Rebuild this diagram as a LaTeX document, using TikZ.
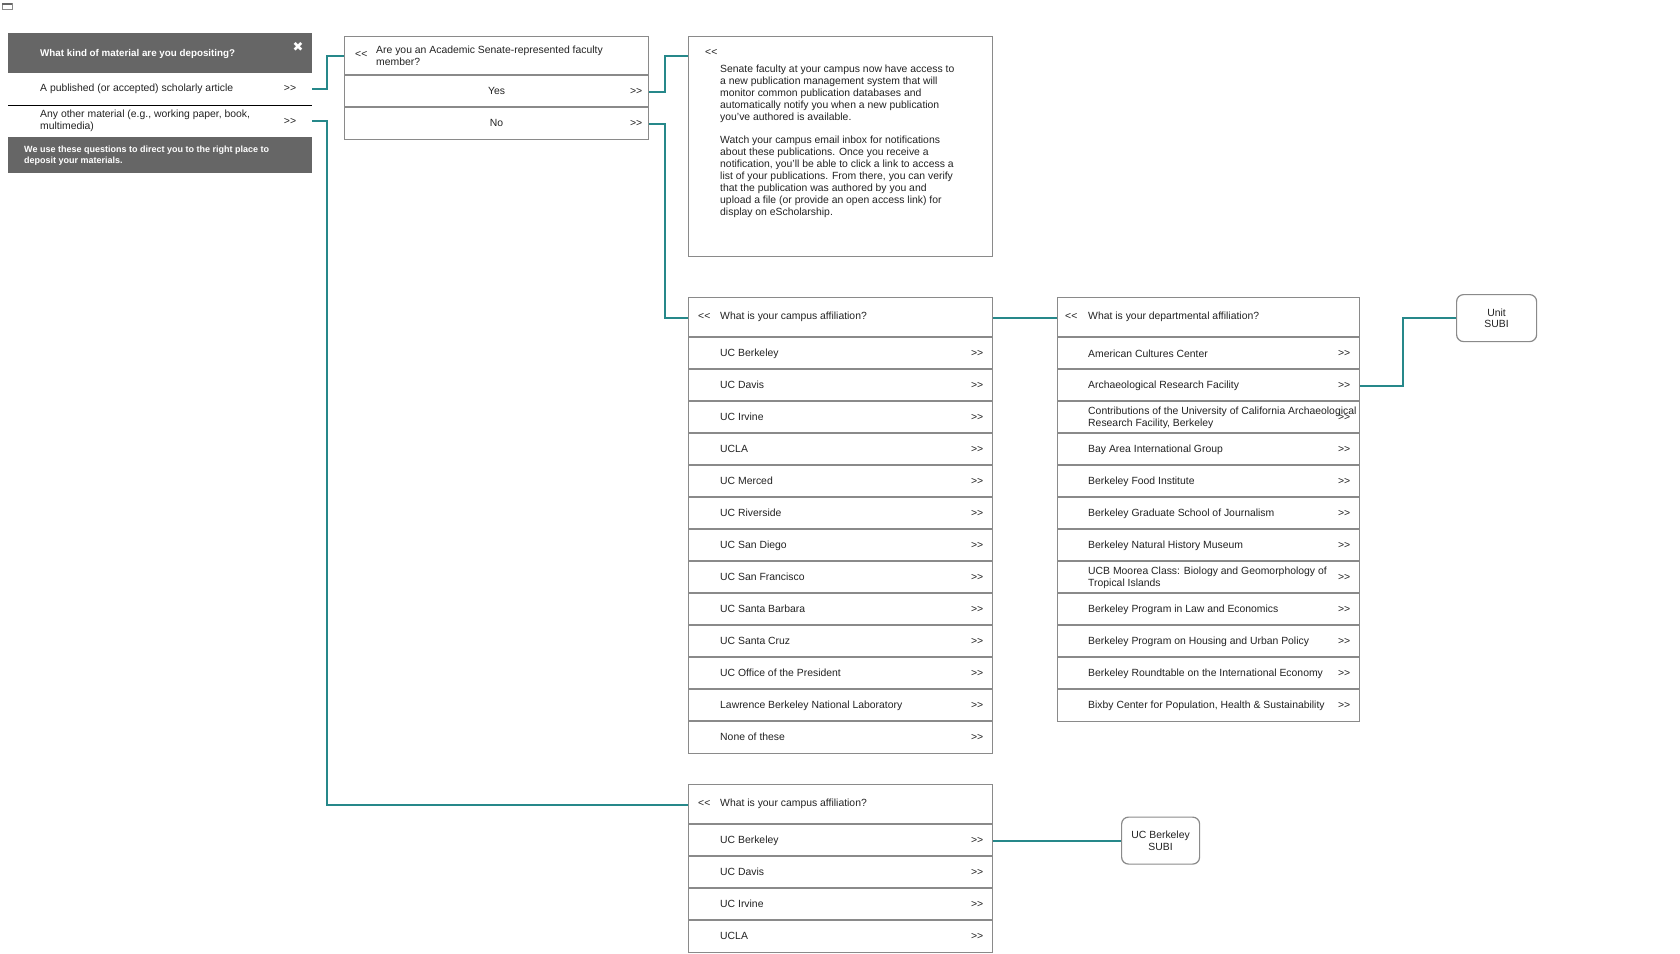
\documentclass[tikz,border=0pt]{standalone}
\usepackage{fontspec}
\setmainfont{Liberation Sans}
\newfontfamily\dejavu{DejaVu Sans}
\usetikzlibrary{calc}
\definecolor{teal1}{RGB}{38,136,138}
\definecolor{bgray}{RGB}{138,138,138}
\definecolor{dgray}{RGB}{102,102,102}
\definecolor{txtc}{RGB}{34,34,34}
\begin{document}
\begin{tikzpicture}[x=1pt,y=-1pt,
  rowbox/.style={draw=bgray, line width=1.2pt, minimum height=32pt, inner sep=0pt, anchor=north west},
  hdrbox/.style={rowbox, minimum height=40pt},
  plainbox/.style={minimum width=304pt, minimum height=32pt, inner sep=0pt, anchor=north west},
  txt/.style={anchor=west, inner sep=0pt, font=\fontsize{10.4}{11.9}\selectfont, text=txtc, text height=7.5pt, text depth=2.2pt},
  txtm/.style={anchor=west, inner sep=0pt, font=\fontsize{10.4}{11.9}\selectfont, text=txtc, align=left},
  fwd/.style={txt, anchor=center},
  sepline/.style={draw=bgray, line width=2pt},
  conn/.style={draw=teal1, line width=2pt},
  subi/.style={draw=bgray, line width=1.2pt, rounded corners=7pt, inner sep=0pt, anchor=north west, align=center, font=\fontsize{10.4}{11.4}\selectfont, text=txtc},
]
\useasboundingbox (0,0) rectangle (1680,953);

% small window icon
\draw[bgray, line width=0.8pt] (2,3) rectangle (12,9);
\fill[dgray] (2,3) rectangle (12,5);

% ---------- Box 1 ----------
\node[plainbox, fill=dgray, minimum height=40pt] (h1) at (8,33) {};
\node[anchor=west, inner sep=0pt, text=white, font=\bfseries\fontsize{9.8}{11}\selectfont] (h1t) at (40,54) {What kind of material are you depositing?};
\node[text=white, font=\dejavu\fontsize{13}{13}\selectfont, inner sep=0pt] (h1x) at (298,47) {✖};
\node[plainbox] (o1) at (8,73) {};
\node[txt] (o1t) at (40,89) {A published (or accepted) scholarly article};
\node[fwd] (o1f) at (290,89) {>{}>};
\draw[black, line width=0.9pt] (o1.south west) -- (o1.south east);
\node[plainbox] (o2) at (8,105) {};
\node[txtm] (o2t) at (40,121) {Any other material (e.g., working paper, book,\\multimedia)};
\node[fwd] (o2f) at (290,122) {>{}>};
\node[plainbox, fill=dgray, minimum height=36pt] (f1) at (8,137) {};
\node[anchor=west, align=left, inner sep=0pt, text=white, font=\bfseries\fontsize{9}{11}\selectfont] (f1t) at (24,156) {We use these questions to direct you to the right place to\\deposit your materials.};

% ---------- Box 2 ----------
\node[hdrbox, minimum width=304pt, minimum height=39pt] (q2) at (344,36) {};
\node[txt] (q2b) at (355,55) {<{}<};
\node[txtm] (q2t) at (376,55.5) {Are you an Academic Senate-represented faculty\\member?};
\node[rowbox, minimum width=304pt] (yes) at (344,75) {};
\node[txt, anchor=center] (yest) at (yes.center) {Yes};
\node[fwd] (yesf) at ([xshift=-13pt]yes.east) {>{}>};
\node[rowbox, minimum width=304pt] (no) at (344,107) {};
\node[txt, anchor=center] (not) at (no.center) {No};
\node[fwd] (nof) at ([xshift=-13pt]no.east) {>{}>};
\draw[sepline] (yes.north west) -- (yes.north east);
\draw[sepline] (no.north west) -- (no.north east);

% ---------- Box 3 ----------
\node[rowbox, minimum width=304pt, minimum height=220pt] (b3) at (688,36) {};
\node[txt] (b3b) at (705,53) {<{}<};
\node[txtm] (b3p1) at (720,94) {Senate faculty at your campus now have access to\\a new publication management system that will\\monitor common publication databases and\\automatically notify you when a new publication\\you've authored is available.};
\node[txtm] (b3p2) at (720,177) {Watch your campus email inbox for notifications\\about these publications. Once you receive a\\notification, you'll be able to click a link to access a\\list of your publications. From there, you can verify\\that the publication was authored by you and\\upload a file (or provide an open access link) for\\display on eScholarship.};

% ---------- Campus box ----------
\node[hdrbox, minimum width=304pt] (cq) at (688,297) {};
\node[txt] (cqb) at (698,317) {<{}<};
\node[txt] (cqt) at (720,317) {What is your campus affiliation?};
\foreach \t [count=\i from 0] in {UC Berkeley, UC Davis, UC Irvine, UCLA, UC Merced, UC Riverside, UC San Diego, UC San Francisco, UC Santa Barbara, UC Santa Cruz, UC Office of the President, Lawrence Berkeley National Laboratory, None of these} {
  \node[rowbox, minimum width=304pt] (c\i) at (688,337+32*\i) {};
  \node[txt] (ct\i) at ([xshift=32pt]c\i.west) {\t};
  \node[fwd] (cf\i) at ([xshift=-16pt]c\i.east) {>{}>};
  \draw[sepline] (c\i.north west) -- (c\i.north east);
}

% ---------- Department box ----------
\node[hdrbox, minimum width=302pt] (dq) at (1057,297) {};
\node[txt] (dqb) at (1065,317) {<{}<};
\node[txt] (dqt) at (1088,317) {What is your departmental affiliation?};
\foreach \t [count=\i from 0] in {American Cultures Center, Archaeological Research Facility, {Contributions of the University of California Archaeological\\Research Facility, Berkeley}, Bay Area International Group, Berkeley Food Institute, Berkeley Graduate School of Journalism, Berkeley Natural History Museum, {UCB Moorea Class: Biology and Geomorphology of\\Tropical Islands}, Berkeley Program in Law and Economics, Berkeley Program on Housing and Urban Policy, Berkeley Roundtable on the International Economy, {Bixby Center for Population, Health \& Sustainability}} {
  \node[rowbox, minimum width=302pt] (d\i) at (1057,337+32*\i) {};
  \node[txtm] (dt\i) at ([xshift=31pt]d\i.west) {\t};
  \node[fwd] (df\i) at ([xshift=-16pt]d\i.east) {>{}>};
  \draw[sepline] (d\i.north west) -- (d\i.north east);
}

% ---------- Unit SUBI ----------
\node[subi, minimum width=80pt, minimum height=47pt] (unit) at (1456,294) {Unit\\SUBI};

% ---------- Bottom campus box ----------
\node[hdrbox, minimum width=304pt] (bq) at (688,784) {};
\node[txt] (bqb) at (698,804) {<{}<};
\node[txt] (bqt) at (720,804) {What is your campus affiliation?};
\foreach \t [count=\i from 0] in {UC Berkeley, UC Davis, UC Irvine, UCLA} {
  \node[rowbox, minimum width=304pt] (bc\i) at (688,824+32*\i) {};
  \node[txt] (bct\i) at ([xshift=32pt]bc\i.west) {\t};
  \node[fwd] (bcf\i) at ([xshift=-16pt]bc\i.east) {>{}>};
  \draw[sepline] (bc\i.north west) -- (bc\i.north east);
}

% ---------- UC Berkeley SUBI ----------
\node[subi, minimum width=78pt, minimum height=47pt] (ubs) at (1121,816.5) {UC Berkeley\\SUBI};

% ---------- connectors ----------
\draw[conn] (o1.east) -- ++(15,0) |- (q2.west);
\draw[conn] (o2.east) -- ++(15,0) |- (bq.west);
\draw[conn] (yes.east) -- ++(16,0) |- (b3.west |- q2.west);
\draw[conn] (no.east) -- ++(16,0) |- (cq.west);
\draw[conn] (cq.east) -- (dq.west);
\draw[conn] (d1.east) -- ++(43,0) |- (unit.west);
\draw[conn] (bc0.east) -- (ubs.west |- bc0.east);
\end{tikzpicture}
\end{document}
